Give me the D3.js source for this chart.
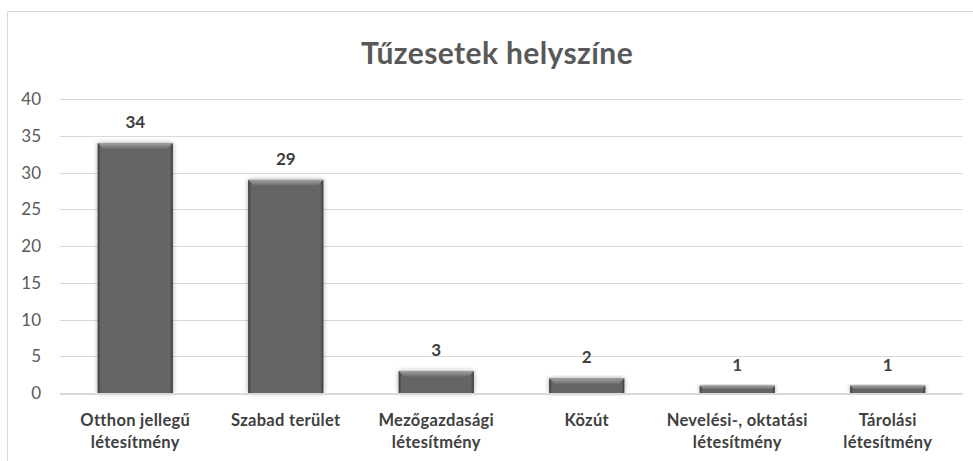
<!DOCTYPE html>
<html>
<head>
<meta charset="utf-8">
<script src="https://cdn.jsdelivr.net/npm/d3@7"></script>
<style>
  body { margin: 0; background: #fff; }
</style>
</head>
<body>
<div id="my_dataviz"></div>
<script>
var width  = 973;
var height = 461;

// data
var categories = [
  ["Otthon jellegű", "létesítmény"],
  ["Szabad terület"],
  ["Mezőgazdasági", "létesítmény"],
  ["Közút"],
  ["Nevelési-, oktatási", "létesítmény"],
  ["Tárolási", "létesítmény"]
];
var values = [34, 29, 3, 2, 1, 1];
var yTicks = [0, 5, 10, 15, 20, 25, 30, 35, 40];
var title = "Tűzesetek helyszíne";

var margin = {left: 60, right: 10, top: 99, bottom: 68};
var font = "Lato, 'Open Sans', sans-serif";

var svg = d3.select("#my_dataviz")
  .append("svg")
    .attr("width", width)
    .attr("height", height);

var defs = svg.append("defs");

// bevel gradients for the bars
var gv = defs.append("linearGradient").attr("id", "barTop")
  .attr("x1", 0).attr("y1", 0).attr("x2", 0).attr("y2", 1);
gv.append("stop").attr("offset", "0%").attr("stop-color", "#a0a0a0");
gv.append("stop").attr("offset", "100%").attr("stop-color", "#6a6a6a");

var gh = defs.append("linearGradient").attr("id", "barBody")
  .attr("x1", 0).attr("y1", 0).attr("x2", 1).attr("y2", 0);
gh.append("stop").attr("offset", "0%").attr("stop-color", "#383838");
gh.append("stop").attr("offset", "4%").attr("stop-color", "#656565");
gh.append("stop").attr("offset", "96%").attr("stop-color", "#656565");
gh.append("stop").attr("offset", "100%").attr("stop-color", "#383838");

var shadow = defs.append("filter").attr("id", "shadow")
  .attr("x", "-20%").attr("y", "-20%").attr("width", "140%").attr("height", "140%");
shadow.append("feDropShadow")
  .attr("dx", 0).attr("dy", 0).attr("stdDeviation", 2.5)
  .attr("flood-color", "#000").attr("flood-opacity", 0.35);

// chart frame
svg.append("path")
  .attr("d", "M7.5," + height + " V11.5 H" + width)
  .style("stroke", "#d9d9d9").style("fill", "none");

svg.append("text")
  .attr("x", 497)
  .attr("y", 64)
  .attr("text-anchor", "middle")
  .attr("font-family", font)
  .attr("font-size", 30)
  .attr("letter-spacing", 0.4)
  .attr("font-weight", "bold")
  .style("fill", "#595959")
  .text(title);

var x = d3.scaleBand()
  .domain(d3.range(values.length))
  .range([margin.left, width - margin.right])
  .paddingInner(0.5)
  .paddingOuter(0.25);

var y = d3.scaleLinear()
  .domain([0, 40])
  .range([height - margin.bottom, margin.top]);

// gridlines
svg.selectAll("grid")
  .data(yTicks.slice(1))
  .enter()
  .append("line")
    .attr("x1", margin.left).attr("x2", width - margin.right)
    .attr("y1", function(d){ return Math.round(y(d)) + 0.5 })
    .attr("y2", function(d){ return Math.round(y(d)) + 0.5 })
    .style("stroke", "#d9d9d9").style("stroke-width", 1);

// y tick labels
svg.selectAll("ylabels")
  .data(yTicks)
  .enter()
  .append("text")
    .attr("x", 41)
    .attr("y", function(d){ return y(d) + 6 })
    .attr("text-anchor", "end")
    .attr("font-family", font)
    .attr("font-size", 17)
    .style("fill", "#595959")
    .text(function(d){ return d });

// bars
var bars = svg.selectAll("bar")
  .data(values)
  .enter()
  .append("g")
    .attr("filter", "url(#shadow)");

bars.append("rect")
  .attr("x", function(d,i){ return x(i) })
  .attr("y", function(d){ return y(d) })
  .attr("width", x.bandwidth())
  .attr("height", function(d){ return y(0) - y(d) })
  .style("fill", "url(#barBody)");

// top bevel
bars.append("path")
  .attr("d", function(d,i){
    var x0 = x(i), x1 = x(i) + x.bandwidth(), t = y(d);
    var b = Math.min(6, (y(0) - y(d)) / 2);
    return "M" + x0 + "," + t + " L" + x1 + "," + t +
      " L" + (x1 - b) + "," + (t + b) + " L" + (x0 + b) + "," + (t + b) + "Z";
  })
  .style("fill", "url(#barTop)");

// axis line
svg.append("line")
  .attr("x1", margin.left).attr("x2", width - margin.right)
  .attr("y1", y(0) + 1).attr("y2", y(0) + 1)
  .style("stroke", "#d9d9d9").style("stroke-width", 2);

// value labels
svg.selectAll("vlabels")
  .data(values)
  .enter()
  .append("text")
    .attr("x", function(d,i){ return x(i) + x.bandwidth() / 2 })
    .attr("y", function(d){ return y(d) - 15 })
    .attr("text-anchor", "middle")
    .attr("font-family", font)
    .attr("font-size", 17)
    .attr("font-weight", "bold")
    .style("fill", "#404040")
    .text(function(d){ return d });

// category labels
var cat = svg.selectAll("clabels")
  .data(categories)
  .enter()
  .append("text")
    .attr("text-anchor", "middle")
    .attr("font-family", font)
    .attr("font-size", 16.5)
    .attr("letter-spacing", 0.3)
    .attr("font-weight", "bold")
    .style("fill", "#404040");

cat.selectAll("tspan")
  .data(function(d, i){ return d.map(function(s){ return {s: s, i: i} }) })
  .enter()
  .append("tspan")
    .attr("x", function(d){ return x(d.i) + x.bandwidth() / 2 })
    .attr("y", function(d, j){ return 426 + j * 22 })
    .text(function(d){ return d.s });
</script>
</body>
</html>
